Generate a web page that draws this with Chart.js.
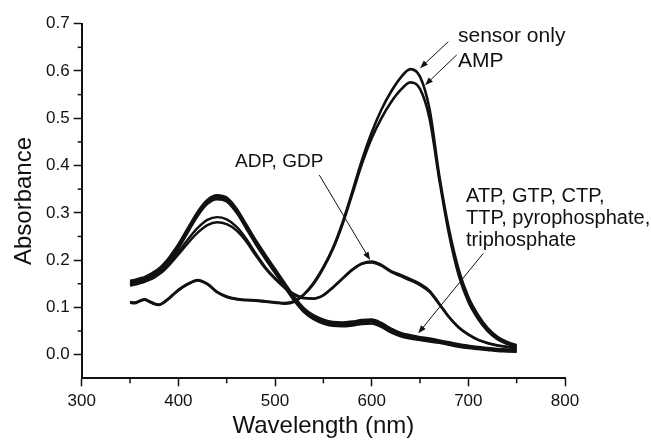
<!DOCTYPE html>
<html><head><meta charset="utf-8">
<script src="https://cdn.jsdelivr.net/npm/chart.js@4.4.1/dist/chart.umd.min.js"></script>
<style>html,body{margin:0;padding:0;background:#fff;} #wrap{width:651px;height:441px;}</style>
</head><body><div id="wrap"><canvas id="c" width="651" height="441"></canvas></div>
<script>
// ---- data ----
const wavelengths = [350,355,360,365,370,375,380,385,390,395,400,410,420,430,440,450,460,470,480,490,500,510,520,530,540,550,560,570,580,590,600,610,620,630,640,650,660,670,680,690,700,710,720,730,740,750];

const sensorOnly = [.110,.109,.114,.117,.113,.108,.106,.111,.119,.128,.137,.150,.158,.150,.133,.123,.118,.116,.115,.113,.111,.109,.113,.128,.152,.185,.226,.280,.345,.412,.470,.518,.556,.586,.604,.588,.518,.378,.265,.180,.122,.084,.056,.038,.027,.020];
const amp        = [.111,.110,.113,.116,.112,.107,.105,.110,.118,.127,.136,.149,.157,.149,.132,.122,.117,.115,.114,.112,.110,.108,.112,.127,.150,.183,.224,.277,.340,.404,.458,.500,.534,.560,.576,.562,.498,.370,.255,.168,.112,.076,.050,.033,.023,.016];

const adp = [.150,.152,.155,.158,.162,.167,.174,.182,.192,.204,.217,.244,.268,.285,.291,.286,.271,.246,.214,.185,.162,.143,.128,.120,.119,.126,.143,.162,.180,.193,.197,.190,.177,.169,.160,.150,.135,.108,.080,.058,.043,.032,.025,.020,.017,.014];
const gdp = [.146,.148,.151,.154,.158,.163,.170,.178,.188,.200,.212,.236,.258,.274,.280,.276,.263,.240,.210,.182,.160,.141,.127,.119,.118,.125,.142,.161,.179,.192,.195,.188,.175,.166,.157,.147,.132,.106,.079,.057,.042,.031,.024,.019,.016,.013];

const atpGtp   = [.156,.158,.161,.164,.169,.175,.182,.192,.204,.218,.233,.268,.302,.327,.337,.332,.309,.276,.242,.211,.181,.151,.122,.098,.083,.074,.069,.068,.070,.073,.074,.067,.055,.046,.041,.037,.034,.030,.026,.022,.019,.016,.014,.012,.011,.010];
const ctpTtp   = [.152,.154,.157,.160,.165,.171,.178,.188,.200,.214,.229,.264,.298,.323,.333,.328,.305,.272,.238,.207,.177,.147,.118,.094,.079,.070,.065,.064,.066,.069,.070,.063,.051,.042,.037,.034,.031,.027,.023,.019,.016,.014,.012,.010,.009,.008];
const pyroTri  = [.148,.150,.153,.156,.161,.167,.174,.184,.196,.210,.225,.260,.294,.319,.329,.324,.301,.268,.234,.203,.173,.143,.114,.090,.075,.066,.061,.060,.062,.065,.066,.059,.047,.039,.034,.031,.028,.025,.021,.017,.014,.012,.010,.008,.007,.006];

const xTicks = [300,400,500,600,700,800];
const xMinorTicks = [350,450,550,650,750];
const yTicks = [0.0,0.1,0.2,0.3,0.4,0.5,0.6,0.7];
const yMinorTicks = [0.05,0.15,0.25,0.35,0.45,0.55,0.65];

// ---- annotation layout (text + arrows, in data units) ----
const noteTexts = [
  {lines:['sensor only'], x:689.3, y:0.662, size:21},
  {lines:['AMP'], x:689.3, y:0.609, size:21},
  {lines:['ADP, GDP'], x:458.6, y:0.3975, size:19},
  {lines:['ATP, GTP, CTP,','TTP, pyrophosphate,','triphosphate'], x:697.6, y:0.3235, size:20}
];
const noteArrows = [
  {from:[679.3,0.662], to:[650.0,0.606]},
  {from:[688.0,0.634], to:[655.2,0.570]},
  {from:[545.8,0.380], to:[598.3,0.2002]},
  {from:[715.5,0.2144], to:[648.2,0.0452]}
];

const FONT = '"Liberation Sans", Arial, Helvetica, sans-serif';
const INK = '#111';

function pts(arr){ return wavelengths.map((w,i)=>({x:w, y:arr[i]})); }
function ds(label, arr, w){
  return {label, data: pts(arr), borderColor: INK, backgroundColor: INK, borderWidth: w,
    pointRadius: 0, fill: false, cubicInterpolationMode: 'monotone'};
}

const extras = {
  id: 'extras',
  afterDraw(chart){
    const ctx = chart.ctx, xs = chart.scales.x, ys = chart.scales.y;
    ctx.save();
    ctx.strokeStyle = INK; ctx.lineWidth = 1.5;
    const bottom = chart.chartArea.bottom, left = chart.chartArea.left;
    xMinorTicks.forEach(v=>{ const p = xs.getPixelForValue(v); ctx.beginPath(); ctx.moveTo(p,bottom); ctx.lineTo(p,bottom+5); ctx.stroke(); });
    yMinorTicks.forEach(v=>{ const p = ys.getPixelForValue(v); ctx.beginPath(); ctx.moveTo(left,p); ctx.lineTo(left-4,p); ctx.stroke(); });
    ctx.fillStyle = INK;
    ctx.textBaseline = 'alphabetic';
    ctx.textAlign = 'left';
    noteTexts.forEach(n=>{
      ctx.font = n.size + 'px ' + FONT;
      const x = xs.getPixelForValue(n.x), y0 = ys.getPixelForValue(n.y);
      n.lines.forEach((t,i)=> ctx.fillText(t, x, y0 + i*22));
    });
    ctx.lineWidth = 1;
    noteArrows.forEach(a=>{
      const x1 = xs.getPixelForValue(a.from[0]), y1 = ys.getPixelForValue(a.from[1]);
      const x2 = xs.getPixelForValue(a.to[0]), y2 = ys.getPixelForValue(a.to[1]);
      const ang = Math.atan2(y2-y1, x2-x1);
      ctx.beginPath(); ctx.moveTo(x1,y1); ctx.lineTo(x2 - 6*Math.cos(ang), y2 - 6*Math.sin(ang)); ctx.stroke();
      const L = 8, W = 3;
      ctx.beginPath();
      ctx.moveTo(x2,y2);
      ctx.lineTo(x2 - L*Math.cos(ang) + W*Math.sin(ang), y2 - L*Math.sin(ang) - W*Math.cos(ang));
      ctx.lineTo(x2 - L*Math.cos(ang) - W*Math.sin(ang), y2 - L*Math.sin(ang) + W*Math.cos(ang));
      ctx.closePath(); ctx.fill();
    });
    ctx.restore();
  }
};

new Chart(document.getElementById('c'), {
  type: 'line',
  data: { datasets: [
    ds('ATP, GTP', atpGtp, 2.6),
    ds('CTP, TTP', ctpTtp, 2.6),
    ds('pyrophosphate, triphosphate', pyroTri, 2.6),
    ds('ADP', adp, 2.4),
    ds('GDP', gdp, 2.4),
    ds('sensor only', sensorOnly, 2.6),
    ds('AMP', amp, 2.6)
  ]},
  options: {
    responsive: false,
    animation: false,
    events: [],
    layout: { padding: { top: 23.7, right: 86, left: 0, bottom: 0 } },
    plugins: { legend: { display: false }, tooltip: { enabled: false } },
    scales: {
      x: {
        type: 'linear', min: 300, max: 800,
        afterBuildTicks: s => { s.ticks = xTicks.map(v=>({value:v})); },
        afterFit: s => { s.height = 62.7; },
        grid: { drawOnChartArea: false, drawTicks: true, tickLength: 8, tickColor: INK, tickWidth: 1.5 },
        border: { display: true, color: INK, width: 2 },
        ticks: { color: INK, padding: 5, font: { family: FONT, size: 17 } },
        title: { display: true, text: 'Wavelength (nm)', color: INK, font: { family: FONT, size: 24 }, padding: { top: 0, bottom: 0 } }
      },
      y: {
        type: 'linear', min: -0.05, max: 0.7,
        afterBuildTicks: s => { s.ticks = yTicks.map(v=>({value:v})); },
        afterFit: s => { s.width = 81.7; },
        grid: { drawOnChartArea: false, drawTicks: true, tickLength: 8, tickColor: INK, tickWidth: 1.5 },
        border: { display: true, color: INK, width: 2 },
        ticks: { color: INK, padding: 4, font: { family: FONT, size: 17 }, callback: v => Number(v).toFixed(1) },
        title: { display: true, text: 'Absorbance', color: INK, font: { family: FONT, size: 24 }, padding: { top: 10, bottom: 0 } }
      }
    }
  },
  plugins: [extras]
});
</script>
</body></html>
